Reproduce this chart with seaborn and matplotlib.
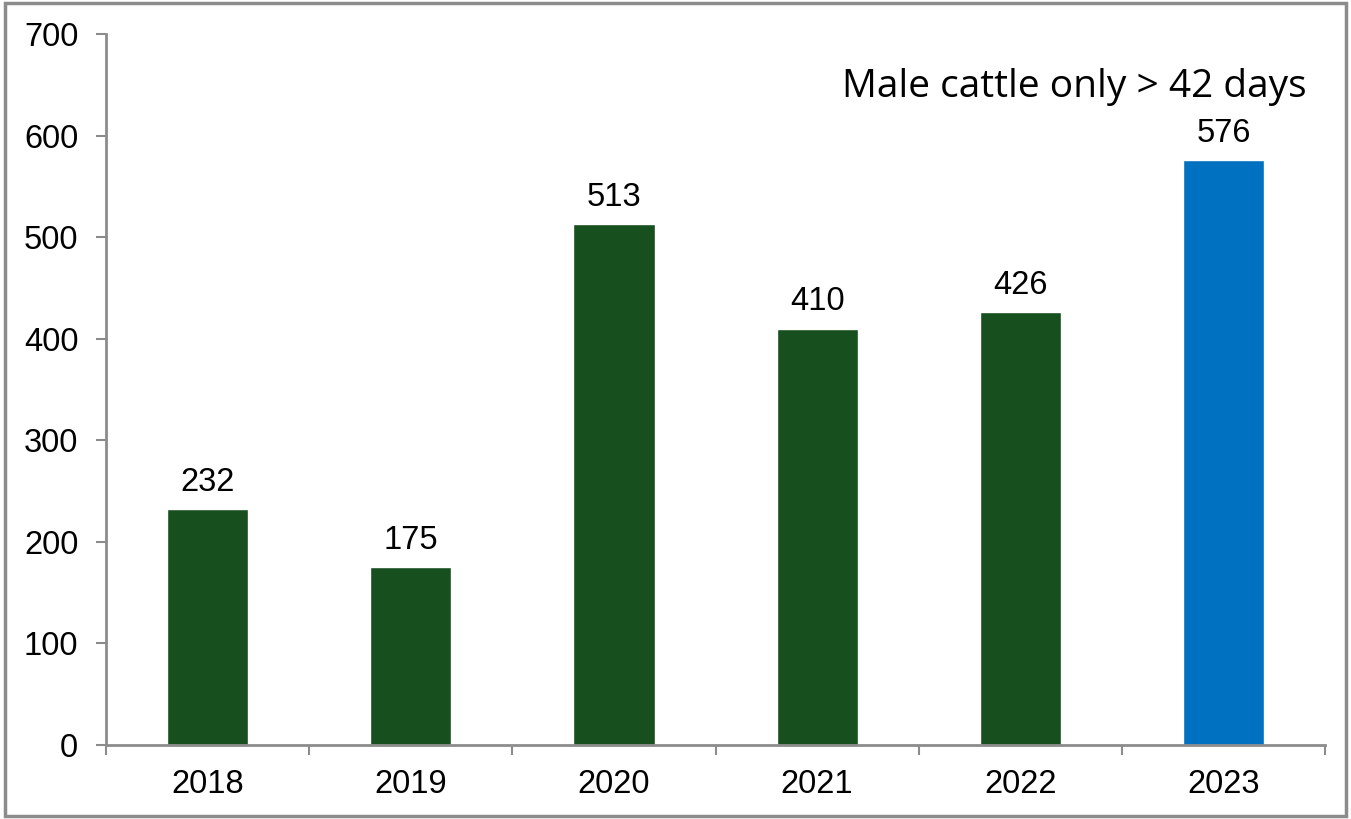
import matplotlib
matplotlib.use("Agg")
import matplotlib.pyplot as plt
import seaborn as sns
import pandas as pd
from matplotlib.patches import Rectangle

years = ["2018", "2019", "2020", "2021", "2022", "2023"]
values = [232, 175, 513, 410, 426, 576]
groups = ["past", "past", "past", "past", "past", "current"]
palette = {"past": "#174F1E", "current": "#0070C0"}
note = "Male cattle only > 42 days"

sns.set_theme(style="white")
plt.rcParams["font.family"] = ["Liberation Sans", "DejaVu Sans"]

df = pd.DataFrame({"year": years, "value": values, "group": groups})

fig = plt.figure(figsize=(13.51, 8.19), dpi=100)
ax = fig.add_axes([0.0785, 0.0904, 0.9023, 0.8681])
sns.barplot(data=df, x="year", y="value", hue="group", palette=palette,
            dodge=False, width=0.4, legend=False, ax=ax, saturation=1)

ax.set_ylim(0, 700)
ax.set_xlim(-0.5, len(years) - 0.5)
ax.set_yticks(range(0, 701, 100))
ax.set_xlabel("")
ax.set_ylabel("")
grey = "#8C8C8C"
for s in ["top", "right"]:
    ax.spines[s].set_visible(False)
for s in ["left", "bottom"]:
    ax.spines[s].set_color(grey)
    ax.spines[s].set_linewidth(2)
ax.tick_params(axis="y", which="major", direction="out", length=7, width=1.5,
               color=grey, labelsize=23.5, labelcolor="black", pad=13, left=True)
ax.tick_params(axis="x", which="major", length=0, labelsize=23.5,
               labelcolor="black", pad=17)
ax.set_xticks([i - 0.5 for i in range(len(years) + 1)], minor=True)
ax.tick_params(axis="x", which="minor", direction="out", length=7, width=1.5,
               color=grey, bottom=True)

for i, v in enumerate(values):
    ax.text(i, v + 11, str(v), ha="center", va="bottom", fontsize=23.5, color="black")

ax.text(0.985, 0.925, note, transform=ax.transAxes, ha="right", va="center",
        fontsize=28, color="black", family=["Open Sans", "DejaVu Sans"])

fig.patches.append(Rectangle((0.004, 0.004), 0.992, 0.992, transform=fig.transFigure,
                             fill=False, edgecolor=grey, linewidth=2.5))

fig.savefig("out.png", dpi=100)
